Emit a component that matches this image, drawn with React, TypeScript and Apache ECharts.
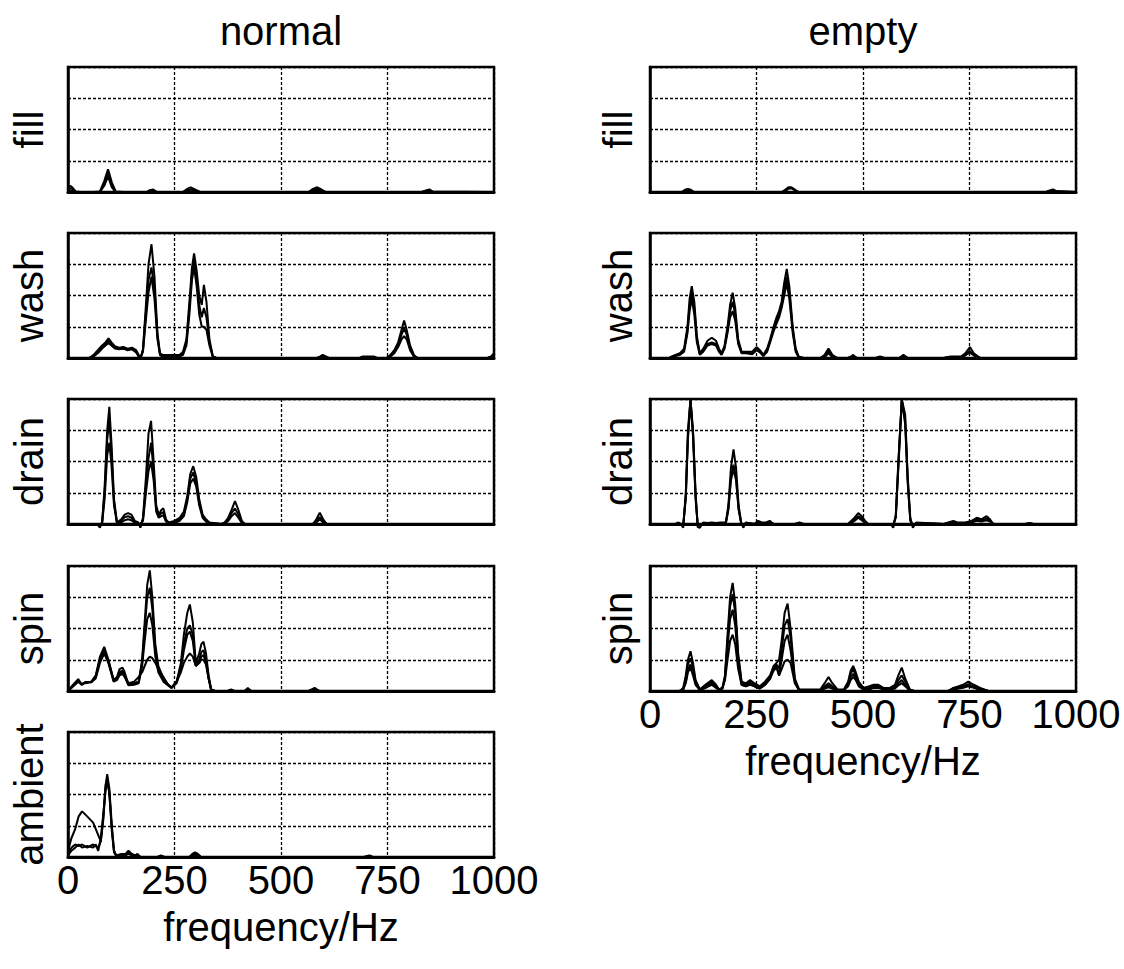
import React, { useEffect, useRef } from "react";
import * as echarts from "echarts";

// ---- axis ----
const X_TICKS = [0, 250, 500, 750, 1000];
const COLUMN_TITLES = ["normal", "empty"];
const NORMAL_ROWS = ["fill", "wash", "drain", "spin", "ambient"];
const EMPTY_ROWS = ["fill", "wash", "drain", "spin"];
const X_NAME = "frequency/Hz";

// ---- normal / fill ----
const NF_F = [0, 5, 10, 18, 30, 60, 75, 85, 94, 103, 112, 130, 185, 192, 200, 208, 270, 280, 288, 298, 310, 565, 575, 585, 595, 605, 830, 840, 848, 856, 1000];
const NF_A = [0.1, 0.2, 0.15, 0.02, 0, 0, 0.02, 0.35, 0.73, 0.3, 0.02, 0, 0, 0.06, 0.08, 0, 0, 0.1, 0.15, 0.08, 0, 0, 0.1, 0.15, 0.08, 0, 0, 0.05, 0.08, 0.02, 0];
const NF_B = [0.05, 0.12, 0.1, 0, 0, 0, 0, 0.25, 0.6, 0.22, 0, 0, 0, 0.04, 0.05, 0, 0, 0.05, 0.08, 0.04, 0, 0, 0.05, 0.1, 0.05, 0, 0, 0.02, 0.05, 0, 0];
const NF_C = [0, 0.05, 0.05, 0, 0, 0, 0, 0.2, 0.5, 0.15, 0, 0, 0, 0, 0.02, 0, 0, 0, 0.02, 0, 0, 0, 0, 0.05, 0, 0, 0, 0, 0.02, 0, 0];

// ---- normal / wash ----
const NW_F = [0, 50, 60, 70, 80, 88, 95, 102, 110, 120, 130, 140, 150, 160, 166, 170, 176, 182, 189, 196, 203, 210, 216, 222, 262, 270, 278, 285, 291, 296, 302, 308, 314, 319, 325, 332, 340, 348, 585, 592, 598, 605, 612, 685, 692, 718, 725, 748, 757, 766, 775, 783, 789, 795, 803, 812, 820, 985, 993, 1000];
const NW_A = [0, 0, 0.1, 0.25, 0.4, 0.5, 0.63, 0.5, 0.38, 0.33, 0.35, 0.3, 0.33, 0.25, 0.1, -0.05, 0.3, 1.5, 3.0, 3.64, 2.6, 0.8, 0.15, 0.1, 0.1, 0.2, 0.6, 1.8, 2.9, 3.35, 2.8, 2.0, 1.7, 2.34, 1.8, 0.6, 0.05, 0, 0, 0.05, 0.1, 0.05, 0, 0, 0.05, 0.05, 0, 0, 0.1, 0.25, 0.5, 0.9, 1.2, 0.9, 0.4, 0.1, 0, 0, 0.05, 0.15];
const NW_B = [0, 0, 0.05, 0.2, 0.35, 0.45, 0.55, 0.45, 0.33, 0.3, 0.3, 0.28, 0.3, 0.2, 0.05, 0, 0.25, 1.3, 2.5, 2.9, 2.2, 0.7, 0.1, 0.05, 0.05, 0.15, 0.5, 1.6, 2.7, 3.1, 2.5, 1.7, 1.3, 1.6, 1.3, 0.5, 0.05, 0, 0, 0.03, 0.06, 0.03, 0, 0, 0.03, 0.03, 0, 0, 0.08, 0.2, 0.4, 0.75, 0.95, 0.75, 0.3, 0.05, 0, 0, 0.03, 0.1];
const NW_C = [0, 0, 0.05, 0.15, 0.3, 0.4, 0.48, 0.4, 0.3, 0.28, 0.3, 0.25, 0.28, 0.18, 0.05, 0, 0.2, 1.1, 2.1, 2.6, 1.9, 0.6, 0.1, 0.05, 0.05, 0.1, 0.4, 1.4, 2.5, 2.9, 2.3, 1.4, 1.0, 1.0, 0.9, 0.4, 0.03, 0, 0, 0.02, 0.04, 0.02, 0, 0, 0.02, 0.02, 0, 0, 0.05, 0.15, 0.35, 0.6, 0.7, 0.6, 0.25, 0.05, 0, 0, 0.02, 0.08];

// ---- normal / drain ----
const ND_F = [0, 68, 75, 80, 86, 92, 97, 102, 108, 115, 125, 133, 141, 149, 157, 165, 170, 176, 183, 189, 195, 201, 207, 213, 219, 224, 230, 236, 250, 262, 272, 280, 287, 294, 301, 308, 316, 324, 332, 360, 368, 376, 384, 392, 400, 408, 415, 575, 583, 591, 599, 607, 1000];
const ND_A = [0, 0, -0.12, 0.05, 1.2, 3.0, 3.75, 2.6, 0.8, 0.05, 0.15, 0.3, 0.35, 0.3, 0.1, 0.05, -0.12, 0.2, 1.5, 2.9, 3.3, 2.0, 0.6, 0.3, 0.45, 0.5, 0.15, 0.05, 0.1, 0.2, 0.4, 0.9, 1.6, 1.85, 1.5, 0.8, 0.3, 0.15, 0.05, 0, 0.05, 0.2, 0.45, 0.73, 0.45, 0.1, 0, 0, 0.15, 0.36, 0.15, 0, 0];
const ND_B = [0, 0, -0.05, 0.03, 1.0, 2.7, 3.3, 2.3, 0.7, 0.03, 0.1, 0.22, 0.25, 0.2, 0.05, 0.02, -0.05, 0.15, 1.2, 2.1, 2.6, 1.7, 0.5, 0.25, 0.35, 0.38, 0.1, 0.03, 0.05, 0.15, 0.3, 0.8, 1.45, 1.65, 1.3, 0.7, 0.25, 0.1, 0.03, 0, 0.03, 0.15, 0.35, 0.5, 0.3, 0.05, 0, 0, 0.1, 0.22, 0.1, 0, 0];
const ND_C = [0, 0, 0, 0.02, 0.8, 2.2, 2.6, 1.9, 0.6, 0.02, 0.05, 0.12, 0.15, 0.12, 0.03, 0, 0, 0.1, 1.0, 1.7, 2.0, 1.4, 0.4, 0.2, 0.25, 0.28, 0.08, 0.02, 0.03, 0.1, 0.25, 0.7, 1.3, 1.45, 1.2, 0.6, 0.2, 0.08, 0.02, 0, 0.02, 0.1, 0.25, 0.35, 0.2, 0.03, 0, 0, 0.05, 0.15, 0.05, 0, 0];

// ---- normal / spin ----
const NS_F = [0, 12, 24, 32, 40, 55, 65, 75, 85, 95, 107, 115, 121, 128, 133, 142, 155, 166, 174, 180, 186, 192, 198, 205, 212, 224, 235, 243, 255, 265, 272, 280, 286, 293, 300, 308, 313, 318, 324, 330, 336, 345, 375, 383, 390, 415, 422, 430, 565, 572, 579, 590, 1000];
const NS_A = [0, 0.2, 0.38, 0.2, 0.28, 0.3, 0.5, 1.1, 1.41, 1.0, 0.35, 0.45, 0.7, 0.75, 0.6, 0.2, 0.25, 0.3, 1.0, 2.2, 3.4, 3.86, 3.0, 1.5, 0.8, 0.4, 0.2, 0.1, 0.3, 0.9, 1.8, 2.5, 2.77, 2.2, 0.9, 1.2, 1.5, 1.58, 1.2, 0.5, 0.05, 0, 0, 0.05, 0, 0, 0.1, 0, 0, 0.05, 0.1, 0, 0];
const NS_B = [0, 0.18, 0.35, 0.22, 0.27, 0.3, 0.45, 1.0, 1.3, 0.95, 0.35, 0.4, 0.6, 0.65, 0.5, 0.2, 0.22, 0.3, 0.9, 2.0, 3.0, 3.3, 2.6, 1.3, 0.7, 0.35, 0.2, 0.12, 0.3, 0.8, 1.5, 2.0, 2.1, 1.8, 0.85, 1.0, 1.25, 1.3, 1.0, 0.45, 0.05, 0, 0, 0.03, 0, 0, 0.05, 0, 0, 0.03, 0.05, 0, 0];
const NS_C = [0, 0.15, 0.3, 0.2, 0.25, 0.28, 0.4, 0.9, 1.2, 0.9, 0.3, 0.35, 0.5, 0.55, 0.45, 0.18, 0.2, 0.25, 0.8, 1.6, 2.3, 2.5, 2.1, 1.1, 0.6, 0.3, 0.18, 0.1, 0.25, 0.7, 1.3, 1.8, 1.9, 1.6, 0.8, 0.9, 1.0, 1.0, 0.85, 0.4, 0.03, 0, 0, 0.02, 0, 0, 0.03, 0, 0, 0.02, 0.03, 0, 0];
const NS_D = [0, 0.15, 0.3, 0.22, 0.27, 0.3, 0.45, 1.0, 1.25, 0.9, 0.35, 0.4, 0.55, 0.6, 0.5, 0.25, 0.3, 0.45, 0.6, 0.8, 1.0, 1.1, 1.05, 0.9, 0.7, 0.45, 0.2, 0.1, 0.3, 0.6, 0.9, 1.1, 1.2, 1.1, 0.8, 0.9, 1.1, 1.15, 0.9, 0.4, 0.03, 0, 0, 0.02, 0, 0, 0.03, 0, 0, 0.02, 0.05, 0, 0];

// ---- normal / ambient ----
const NA_F = [0, 8, 17, 25, 33, 45, 59, 65, 71, 77, 83, 88, 92, 97, 103, 108, 113, 125, 135, 142, 150, 158, 163, 170, 210, 218, 226, 285, 292, 298, 305, 312, 695, 702, 708, 715, 1000];
const NA_A = [0.2, 0.6, 0.9, 1.3, 1.46, 1.3, 1.1, 0.9, 0.7, 0.5, 1.2, 2.2, 2.65, 2.2, 1.0, 0.2, 0.05, 0.1, 0.1, 0.2, 0.1, 0.05, 0.1, 0, 0, 0.05, 0, 0, 0.1, 0.15, 0.1, 0, 0, 0.03, 0.05, 0, 0];
const NA_B = [0.1, 0.3, 0.4, 0.35, 0.4, 0.3, 0.4, 0.35, 0.3, 0.5, 1.3, 2.3, 2.55, 2.0, 0.9, 0.2, 0.05, 0.05, 0.08, 0.15, 0.05, 0.03, 0.05, 0, 0, 0.03, 0, 0, 0.05, 0.1, 0.05, 0, 0, 0.02, 0.03, 0, 0];
const NA_C = [0.05, 0.2, 0.3, 0.4, 0.3, 0.35, 0.3, 0.4, 0.2, 0.6, 1.4, 2.1, 2.4, 2.1, 0.8, 0.15, 0.03, 0.05, 0.05, 0.1, 0.05, 0.02, 0.03, 0, 0, 0.02, 0, 0, 0.03, 0.08, 0.03, 0, 0, 0, 0.02, 0, 0];

// ---- empty / fill ----
const EF_F = [0, 75, 82, 89, 96, 103, 310, 318, 325, 332, 340, 348, 930, 938, 946, 954, 1000];
const EF_A = [0, 0, 0.07, 0.1, 0.07, 0, 0, 0.08, 0.15, 0.15, 0.08, 0, 0, 0.05, 0.08, 0.03, 0];
const EF_B = [0, 0, 0.03, 0.05, 0.03, 0, 0, 0.04, 0.1, 0.12, 0.05, 0, 0, 0.03, 0.05, 0.02, 0];

// ---- empty / wash ----
const EW_F = [0, 45, 51, 60, 70, 80, 88, 93, 98, 104, 110, 117, 125, 135, 145, 155, 162, 168, 175, 182, 188, 194, 200, 207, 215, 225, 240, 250, 258, 266, 275, 282, 290, 297, 303, 309, 315, 321, 327, 335, 342, 349, 360, 400, 410, 419, 428, 440, 465, 472, 477, 485, 530, 540, 550, 585, 595, 605, 690, 705, 730, 740, 751, 760, 775, 1000];
const EW_A = [0, 0, 0.05, 0.1, 0.15, 0.3, 1.0, 1.9, 2.3, 1.8, 0.7, 0.15, 0.3, 0.55, 0.65, 0.55, 0.3, 0.15, 0.4, 1.0, 1.7, 2.09, 1.6, 0.6, 0.2, 0.2, 0.2, 0.35, 0.25, 0.1, 0.3, 0.6, 1.0, 1.3, 1.5, 1.8, 2.4, 2.85, 2.3, 1.0, 0.3, 0.05, 0, 0, 0.1, 0.3, 0.1, 0, 0, 0.05, 0.1, 0, 0, 0.05, 0, 0, 0.1, 0, 0, 0.05, 0.05, 0.15, 0.35, 0.15, 0, 0];
const EW_B = [0, 0, 0.03, 0.08, 0.12, 0.25, 0.9, 1.7, 2.1, 1.6, 0.6, 0.12, 0.25, 0.45, 0.5, 0.45, 0.25, 0.12, 0.35, 0.9, 1.5, 1.8, 1.4, 0.5, 0.18, 0.18, 0.15, 0.3, 0.2, 0.08, 0.25, 0.55, 0.9, 1.2, 1.4, 1.7, 2.2, 2.6, 2.1, 0.9, 0.25, 0.03, 0, 0, 0.05, 0.2, 0.05, 0, 0, 0.03, 0.05, 0, 0, 0.03, 0, 0, 0.05, 0, 0, 0.03, 0.03, 0.1, 0.22, 0.1, 0, 0];
const EW_C = [0, 0, 0.02, 0.06, 0.1, 0.2, 0.8, 1.5, 1.9, 1.4, 0.5, 0.1, 0.2, 0.4, 0.45, 0.4, 0.2, 0.1, 0.3, 0.8, 1.3, 1.5, 1.2, 0.45, 0.15, 0.15, 0.12, 0.25, 0.18, 0.06, 0.2, 0.5, 0.85, 1.1, 1.3, 1.6, 2.0, 2.4, 1.9, 0.8, 0.2, 0.02, 0, 0, 0.03, 0.15, 0.03, 0, 0, 0.02, 0.03, 0, 0, 0.02, 0, 0, 0.03, 0, 0, 0.02, 0.02, 0.08, 0.18, 0.08, 0, 0];

// ---- empty / drain ----
const ED_F = [0, 60, 67, 72, 78, 84, 89, 95, 101, 107, 112, 117, 125, 135, 145, 155, 165, 178, 184, 190, 196, 202, 208, 214, 219, 225, 245, 254, 262, 272, 281, 290, 340, 351, 360, 465, 472, 480, 489, 497, 505, 512, 565, 571, 577, 583, 591, 599, 605, 611, 617, 625, 690, 700, 712, 722, 740, 755, 767, 778, 790, 798, 806, 880, 892, 900, 1000];
const ED_A = [0, 0, 0.05, 0, -0.12, 1.0, 3.0, 4.0, 3.0, 1.0, -0.1, -0.12, 0.05, 0.03, 0.05, 0.03, 0.05, 0.05, 0.6, 1.8, 2.39, 1.8, 0.6, 0.05, -0.12, 0.05, 0, 0.1, 0.05, 0.05, 0.1, 0, 0, 0.05, 0, 0, 0.1, 0.2, 0.35, 0.25, 0.1, 0, 0, -0.12, 0.3, 2.0, 4.0, 3.5, 1.5, 0.2, -0.12, 0.05, 0, 0.05, 0.1, 0.05, 0.05, 0.1, 0.2, 0.15, 0.25, 0.15, 0, 0, 0.03, 0, 0];
const ED_B = [0, 0, 0.03, 0, -0.05, 0.9, 2.8, 3.98, 2.9, 0.9, -0.05, -0.05, 0.03, 0.02, 0.03, 0.02, 0.03, 0.03, 0.5, 1.5, 1.9, 1.5, 0.5, 0.03, -0.05, 0.03, 0, 0.05, 0.03, 0.03, 0.05, 0, 0, 0.03, 0, 0, 0.05, 0.15, 0.25, 0.18, 0.05, 0, 0, -0.05, 0.25, 1.9, 3.98, 3.3, 1.4, 0.15, -0.05, 0.03, 0, 0.03, 0.05, 0.03, 0.03, 0.08, 0.15, 0.1, 0.18, 0.1, 0, 0, 0.02, 0, 0];
const ED_C = [0, 0, 0.02, 0, -0.03, 0.8, 2.7, 3.95, 2.8, 0.8, -0.03, -0.03, 0.02, 0.01, 0.02, 0.01, 0.02, 0.02, 0.45, 1.4, 1.75, 1.4, 0.45, 0.02, -0.03, 0.02, 0, 0.03, 0.02, 0.02, 0.03, 0, 0, 0.02, 0, 0, 0.03, 0.1, 0.2, 0.12, 0.03, 0, 0, -0.03, 0.2, 1.8, 3.95, 3.2, 1.3, 0.1, -0.03, 0.02, 0, 0.02, 0.03, 0.02, 0.02, 0.05, 0.1, 0.08, 0.12, 0.08, 0, 0, 0.01, 0, 0];

// ---- empty / spin ----
const ES_F = [0, 70, 78, 84, 89, 95, 101, 107, 117, 130, 145, 155, 162, 170, 176, 182, 188, 194, 200, 207, 215, 225, 235, 245, 258, 270, 282, 290, 297, 303, 309, 316, 323, 330, 340, 350, 400, 410, 419, 428, 440, 455, 465, 471, 477, 483, 490, 501, 515, 525, 536, 548, 563, 575, 583, 591, 599, 610, 620, 700, 712, 725, 735, 747, 760, 775, 794, 1000];
const ES_A = [0, 0, 0.1, 0.5, 1.0, 1.27, 0.9, 0.35, 0.05, 0.2, 0.35, 0.2, 0.05, 0.1, 0.5, 1.8, 3.0, 3.46, 2.8, 1.2, 0.3, 0.25, 0.35, 0.25, 0.15, 0.3, 0.5, 0.8, 0.9, 1.0, 1.6, 2.5, 2.8, 2.0, 0.4, 0.05, 0.05, 0.25, 0.45, 0.25, 0.05, 0.05, 0.3, 0.65, 0.8, 0.6, 0.3, 0.1, 0.15, 0.2, 0.2, 0.1, 0.1, 0.2, 0.5, 0.75, 0.4, 0.05, 0, 0, 0.1, 0.15, 0.2, 0.3, 0.2, 0.1, 0, 0];
const ES_B = [0, 0, 0.08, 0.4, 0.85, 1.05, 0.75, 0.3, 0.05, 0.15, 0.3, 0.15, 0.05, 0.1, 0.45, 1.6, 2.7, 3.1, 2.5, 1.1, 0.25, 0.2, 0.3, 0.2, 0.1, 0.25, 0.45, 0.75, 0.85, 0.7, 1.3, 2.1, 2.3, 1.7, 0.35, 0.03, 0.03, 0.15, 0.25, 0.15, 0.03, 0.03, 0.25, 0.55, 0.7, 0.5, 0.25, 0.08, 0.1, 0.18, 0.18, 0.08, 0.08, 0.15, 0.35, 0.5, 0.3, 0.03, 0, 0, 0.08, 0.12, 0.15, 0.22, 0.15, 0.08, 0, 0];
const ES_C = [0, 0, 0.05, 0.3, 0.7, 0.85, 0.6, 0.25, 0.03, 0.1, 0.25, 0.12, 0.03, 0.08, 0.4, 1.4, 2.3, 2.6, 2.1, 0.9, 0.2, 0.15, 0.25, 0.15, 0.08, 0.2, 0.4, 0.7, 0.8, 0.5, 1.0, 1.6, 1.8, 1.3, 0.3, 0.02, 0.02, 0.1, 0.18, 0.1, 0.02, 0.02, 0.2, 0.45, 0.55, 0.4, 0.2, 0.05, 0.08, 0.15, 0.15, 0.05, 0.05, 0.1, 0.25, 0.35, 0.2, 0.02, 0, 0, 0.05, 0.1, 0.12, 0.18, 0.12, 0.05, 0, 0];
const ES_D = [0, 0, 0.05, 0.25, 0.6, 0.75, 0.5, 0.2, 0.03, 0.1, 0.2, 0.1, 0.03, 0.08, 0.35, 1.0, 1.6, 1.8, 1.5, 0.7, 0.2, 0.15, 0.2, 0.15, 0.08, 0.2, 0.4, 0.65, 0.75, 0.5, 0.7, 0.95, 1.0, 0.9, 0.25, 0.02, 0.02, 0.08, 0.12, 0.08, 0.02, 0.02, 0.15, 0.35, 0.45, 0.35, 0.15, 0.05, 0.05, 0.1, 0.1, 0.05, 0.05, 0.08, 0.18, 0.25, 0.15, 0.02, 0, 0, 0.04, 0.08, 0.1, 0.15, 0.1, 0.04, 0, 0];

const PANELS = [
  { col: 0, row: 0, label: NORMAL_ROWS[0], f: NF_F, lines: [NF_A, NF_B, NF_C] },
  { col: 0, row: 1, label: NORMAL_ROWS[1], f: NW_F, lines: [NW_A, NW_B, NW_C] },
  { col: 0, row: 2, label: NORMAL_ROWS[2], f: ND_F, lines: [ND_A, ND_B, ND_C] },
  { col: 0, row: 3, label: NORMAL_ROWS[3], f: NS_F, lines: [NS_A, NS_B, NS_C, NS_D] },
  { col: 0, row: 4, label: NORMAL_ROWS[4], f: NA_F, lines: [NA_A, NA_B, NA_C] },
  { col: 1, row: 0, label: EMPTY_ROWS[0], f: EF_F, lines: [EF_A, EF_B] },
  { col: 1, row: 1, label: EMPTY_ROWS[1], f: EW_F, lines: [EW_A, EW_B, EW_C] },
  { col: 1, row: 2, label: EMPTY_ROWS[2], f: ED_F, lines: [ED_A, ED_B, ED_C] },
  { col: 1, row: 3, label: EMPTY_ROWS[3], f: ES_F, lines: [ES_A, ES_B, ES_C, ES_D] },
];

const FONT = "'Liberation Sans', Arial, sans-serif";
const COL_LEFT = [68, 650];
const COL_LABEL_X = [29, 618];
const COL_TITLE_X = [281, 863];
const ROW_TOP = [67, 233, 399, 566, 732];
const PW = 426;
const PH = 125;

export default function App() {
  const ref = useRef<HTMLDivElement>(null);
  useEffect(() => {
    document.body.style.margin = "0";
    if (!ref.current) return;
    const chart = echarts.init(ref.current, undefined, { renderer: "svg" });
    const lastRow = [4, 3];
    const grid: any[] = [];
    const xAxis: any[] = [];
    const yAxis: any[] = [];
    const series: any[] = [];
    const graphic: any[] = [];
    const dotted = { color: "#000", width: 1.3, type: [3, 2] };
    PANELS.forEach((p, i) => {
      grid.push({
        left: COL_LEFT[p.col],
        top: ROW_TOP[p.row],
        width: PW,
        height: PH,
        show: true,
        borderColor: "#000",
        borderWidth: 2.5,
        backgroundColor: "#fff",
        containLabel: false,
        outerBoundsMode: "none",
      });
      const isBottom = p.row === lastRow[p.col];
      xAxis.push({
        type: "value",
        gridIndex: i,
        min: X_TICKS[0],
        max: X_TICKS[X_TICKS.length - 1],
        interval: X_TICKS[1] - X_TICKS[0],
        axisLine: { show: true, onZero: false, lineStyle: { color: "#000", width: 3 } },
        axisTick: { show: false },
        splitLine: { show: true, lineStyle: dotted },
        axisLabel: {
          show: isBottom,
          fontSize: 40,
          color: "#000",
          fontFamily: FONT,
          margin: 3,
          showMinLabel: true,
          showMaxLabel: true,
          formatter: (v: number) => String(v),
        },
        name: isBottom ? X_NAME : "",
        nameLocation: "middle",
        nameGap: 50,
        nameTextStyle: { fontSize: 40, color: "#000", fontFamily: FONT },
      });
      yAxis.push({
        type: "value",
        gridIndex: i,
        min: 0,
        max: 4,
        interval: 1,
        axisLine: { show: true, lineStyle: { color: "#000", width: 2.5 } },
        axisTick: { show: false },
        axisLabel: { show: false },
        splitLine: { show: true, lineStyle: dotted },
      });
      p.lines.forEach((vals) => {
        const n = Math.min(vals.length, p.f.length);
        const data: number[][] = [];
        for (let k = 0; k < n; k++) data.push([p.f[k], vals[k]]);
        series.push({
          type: "line",
          xAxisIndex: i,
          yAxisIndex: i,
          data,
          symbol: "none",
          clip: false,
          silent: true,
          lineStyle: { color: "#000", width: 2 },
          z: 3,
        });
      });
      graphic.push({
        type: "text",
        x: COL_LABEL_X[p.col],
        y: ROW_TOP[p.row] + PH / 2,
        rotation: Math.PI / 2,
        style: {
          text: p.label,
          fontSize: 40,
          fontFamily: FONT,
          fill: "#000",
          textAlign: "center",
          textVerticalAlign: "middle",
        },
      });
    });
    COLUMN_TITLES.forEach((t, c) => {
      graphic.push({
        type: "text",
        x: COL_TITLE_X[c],
        y: 31,
        style: {
          text: t,
          fontSize: 40,
          fontFamily: FONT,
          fill: "#000",
          textAlign: "center",
          textVerticalAlign: "middle",
        },
      });
    });
    chart.setOption({
      animation: false,
      backgroundColor: "#fff",
      grid,
      xAxis,
      yAxis,
      series,
      graphic,
    });
    return () => chart.dispose();
  }, []);
  return <div ref={ref} style={{ width: 1124, height: 969 }} />;
}
